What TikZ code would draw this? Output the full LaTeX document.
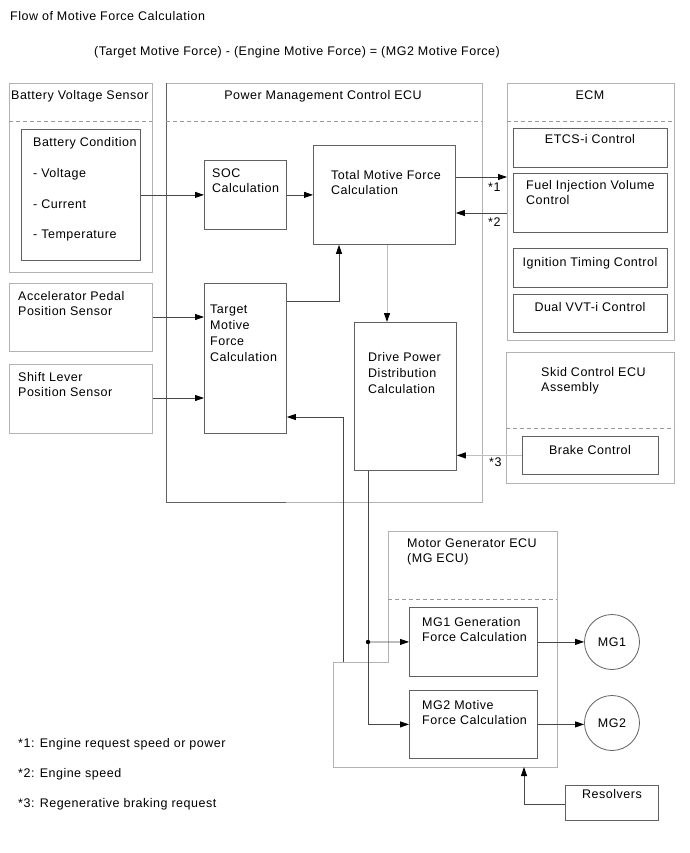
\documentclass[tikz,border=0pt]{standalone}
\usepackage{fontspec}
\setmainfont[LetterSpace=4]{Liberation Sans}
\usetikzlibrary{arrows.meta}
\begin{document}
\begin{tikzpicture}[x=1pt,y=-1pt,
  font=\fontsize{12.5}{15}\selectfont,
  cont/.style={draw=black!30, line width=0.8pt},
  sep/.style={draw=black!40, dash pattern=on 4pt off 3pt, line width=0.7pt},
  box/.style={draw=black!62, line width=0.8pt, rectangle, inner sep=0pt, anchor=north west},
  txt/.style={inner sep=0pt, anchor=base west, align=left},
  mtxt/.style={inner sep=0pt, anchor=north west, align=left},
  ctxt/.style={inner sep=0pt, anchor=base},
  conn/.style={draw=black!72, line width=0.8pt, -{Triangle[length=9pt,width=6pt,color=black]}},
  gconn/.style={draw=black!25, line width=1pt, -{Triangle[length=9pt,width=6pt,color=black]}},
  motor/.style={draw=black!62, line width=0.8pt, circle, minimum size=55pt, inner sep=0pt}
]
\useasboundingbox (0,0) rectangle (689,853);
\fill[white] (0,0) rectangle (689,853);

% titles
\node[txt] (title) at (10,21) {Flow of Motive Force Calculation};
\node[ctxt] (formula) at (297,56) {(Target Motive Force) - (Engine Motive Force) = (MG2 Motive Force)};

% Battery voltage sensor
\node[box, cont, minimum width=143pt, minimum height=189pt] (bvs) at (9,83) {};
\node[txt] (bvst) at (11,100) {Battery Voltage Sensor};
\draw[sep] (9,121) -- (152,121);
\node[box, minimum width=119pt, minimum height=131pt] (bc) at (21,129) {};
\node[txt] (bct1) at (33,147) {Battery Condition};
\node[txt] (bct2) at (33,178) {- Voltage};
\node[txt] (bct3) at (33,208) {- Current};
\node[txt] (bct4) at (33,238) {- Temperature};

% Power management control ECU
\node[box, cont, minimum width=316pt, minimum height=419pt] (pmc) at (166,83) {};
\draw[draw=black!62, line width=0.8pt] (pmc.north west) -- (pmc.south west) -- ++(120,0);
\node[ctxt] (pmct) at (323,100) {Power Management Control ECU};
\draw[sep] (166,121) -- (482,121);
\node[box, minimum width=82pt, minimum height=69pt] (soc) at (204,160) {};
\node[mtxt] (soct) at (212,169) {SOC\\Calculation};
\node[box, minimum width=142pt, minimum height=99pt] (tmf) at (313,145) {};
\node[mtxt] (tmft) at (331,170) {Total Motive Force\\Calculation};
\node[box, minimum width=82pt, minimum height=150pt] (tgt) at (204,283) {};
\node[mtxt] (tgtt) at (210,305) {Target\\[1pt]Motive\\[1pt]Force\\[1pt]Calculation};
\node[box, minimum width=102pt, minimum height=148pt] (dpd) at (354,322) {};
\node[mtxt] (dpdt) at (368,352) {Drive Power\\[1pt]Distribution\\[1pt]Calculation};

% sensors
\node[box, cont, minimum width=143pt, minimum height=68pt] (app) at (9,283) {};
\node[mtxt] (appt) at (18,291) {Accelerator Pedal\\Position Sensor};
\node[box, cont, minimum width=143pt, minimum height=69pt] (slp) at (9,364) {};
\node[mtxt] (slpt) at (18,372) {Shift Lever\\Position Sensor};

% ECM
\node[box, cont, minimum width=167pt, minimum height=257pt] (ecm) at (507,83) {};
\node[ctxt] (ecmt) at (590,100) {ECM};
\draw[sep] (507,121) -- (674,121);
\node[box, minimum width=154pt, minimum height=39pt] (etcs) at (513,128) {};
\node[ctxt] (etcst) at (590,144) {ETCS-i Control};
\node[box, minimum width=154pt, minimum height=59pt] (fiv) at (513,173) {};
\node[mtxt] (fivt) at (526,180) {Fuel Injection Volume\\Control};
\node[box, minimum width=154pt, minimum height=39pt] (itc) at (513,248) {};
\node[ctxt] (itct) at (590,266) {Ignition Timing Control};
\node[box, minimum width=154pt, minimum height=38pt] (vvt) at (513,294) {};
\node[ctxt] (vvtt) at (590,311) {Dual VVT-i Control};

% Skid control ECU
\node[box, cont, minimum width=168pt, minimum height=131pt] (skid) at (506,352) {};
\node[mtxt] (skidt) at (541,367) {Skid Control ECU\\Assembly};
\draw[sep] (506,428) -- (674,428);
\node[box, minimum width=136pt, minimum height=38pt] (brake) at (522,436) {};
\node[ctxt] (braket) at (590,454) {Brake Control};

% MG ECU
\draw[cont] (388,531) -- (557,531) -- (557,767) -- (333,767) -- (333,662) -- (388,662) -- cycle;
\node[mtxt] (mgt) at (407,539) {Motor Generator ECU\\(MG ECU)};
\draw[sep] (388,599) -- (557,599);
\node[box, minimum width=128pt, minimum height=69pt] (mg1c) at (409,607) {};
\node[mtxt] (mg1ct) at (422,617) {MG1 Generation\\Force Calculation};
\node[box, minimum width=128pt, minimum height=68pt] (mg2c) at (409,690) {};
\node[mtxt] (mg2ct) at (422,700) {MG2 Motive\\Force Calculation};
\node[motor] (mg1) at (612,642) {MG1};
\node[motor] (mg2) at (612,723) {MG2};
\node[box, minimum width=93pt, minimum height=35pt] (res) at (565,785) {};
\node[ctxt] (rest) at (612,798) {Resolvers};

% footnotes
\node[txt] (n1) at (18,747) {*1: Engine request speed or power};
\node[txt] (n2) at (18,777) {*2: Engine speed};
\node[txt] (n3) at (18,807) {*3: Regenerative braking request};

% helper coordinates
\coordinate (y1) at (0,177);
\coordinate (y2) at (0,213);
\coordinate (c1) at (339,301);
\coordinate (xd) at (387,0);
\coordinate (ya) at (0,317);
\coordinate (ys) at (0,398);
\coordinate (fb) at (343,662);
\coordinate (fbt) at (343,417);
\coordinate (j) at (368,642);
\coordinate (mgbot) at (524,767);
\coordinate (yr) at (0,804);

% connectors
\draw[conn] (bc.east |- soc.west) -- (soc.west);
\draw[conn] (soc.east) -- (soc.east -| tmf.west);
\draw[conn] (tmf.east |- y1) -- (ecm.west |- y1);
\draw[conn] (ecm.west |- y2) -- (tmf.east |- y2);
\draw[conn] (tgt.east |- c1) -| (tmf.south -| c1);
\draw[gconn] (tmf.south -| xd) -- (dpd.north -| xd);
\draw[conn] (app.east |- ya) -- (tgt.west |- ya);
\draw[conn] (slp.east |- ys) -- (tgt.west |- ys);
\draw[gconn] (brake.west) -- (brake.west -| dpd.east);
\draw[conn] (fb) -- (fbt) -- (tgt.east |- fbt);
\draw[conn] (dpd.south -| j) |- (mg2c.west);
\draw[conn] (j) -- (mg1c.west);
\fill[black] (j) circle (2.2pt);
\draw[conn] (mg1c.east) -- (mg1c.east -| mg1.west);
\draw[conn] (mg2c.east) -- (mg2c.east -| mg2.west);
\draw[conn] (res.west |- yr) -| (mgbot);

% labels
\node[txt] (l1) at (488,191) {*1};
\node[txt] (l2) at (488,226) {*2};
\node[txt] (l3) at (489,466) {*3};
\end{tikzpicture}
\end{document}
